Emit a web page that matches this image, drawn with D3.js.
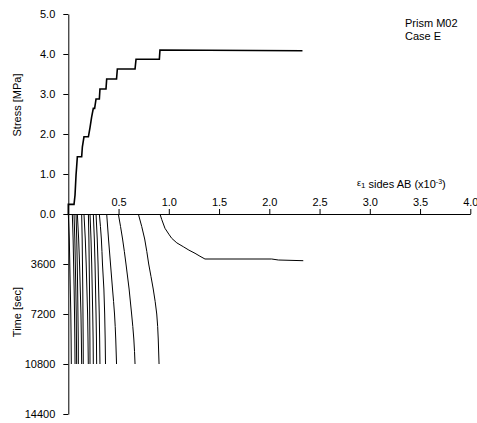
<!DOCTYPE html>
<html>
<head>
<meta charset="utf-8">
<script src="https://cdn.jsdelivr.net/npm/d3@7"></script>
<style>
  body { margin: 0; background: #fff; }
  svg { display: block; font-family: "Liberation Sans", Arial, sans-serif; }
</style>
</head>
<body>
<svg id="chart" width="477" height="423"></svg>
<script>
// upper part: stress vs strain (step curve)
const stressStrain = [0, 0, 0.057, 0.067, 0.077, 0.083, 0.09, 0.133, 0.14, 0.156, 0.2, 0.216, 0.232, 0.249, 0.262, 0.276, 0.309, 0.315, 0.375, 0.382, 0.48, 0.488, 0.664, 0.674, 0.906, 0.912, 2.33];
const stressValues = [0, 0.24, 0.24, 0.475, 0.975, 1.18, 1.43, 1.43, 1.68, 1.93, 1.93, 2.16, 2.42, 2.64, 2.64, 2.875, 2.875, 3.125, 3.125, 3.375, 3.375, 3.625, 3.625, 3.87, 3.87, 4.1, 4.08];

// lower part: strain vs time, one line per load step
const creepTimes = [0, 1800, 3600, 5400, 7200, 9000, 10800];
const creepStrains = [
  [0.00, 0.01, 0.015, 0.02, 0.025, 0.028, 0.03],
  [0.04, 0.048, 0.053, 0.058, 0.062, 0.065, 0.067],
  [0.057, 0.065, 0.07, 0.075, 0.079, 0.081, 0.083],
  [0.077, 0.084, 0.089, 0.093, 0.096, 0.099, 0.10],
  [0.09, 0.103, 0.112, 0.119, 0.126, 0.13, 0.133],
  [0.133, 0.138, 0.141, 0.144, 0.146, 0.148, 0.149],
  [0.156, 0.169, 0.178, 0.185, 0.192, 0.196, 0.199],
  [0.20, 0.205, 0.208, 0.211, 0.213, 0.215, 0.216],
  [0.216, 0.226, 0.233, 0.238, 0.243, 0.247, 0.249],
  [0.249, 0.259, 0.266, 0.271, 0.276, 0.28, 0.282],
  [0.276, 0.288, 0.296, 0.302, 0.308, 0.312, 0.315],
  [0.309, 0.329, 0.34, 0.354, 0.362, 0.367, 0.37],
  [0.382, 0.40, 0.42, 0.44, 0.46, 0.472, 0.48],
  [0.498, 0.54, 0.574, 0.605, 0.63, 0.652, 0.664],
  [0.697, 0.76, 0.80, 0.845, 0.88, 0.895, 0.903]
];
// last step (failure), runs out to the right
const lastStrain = [0.912, 0.93, 0.962, 1.0, 1.029, 1.08, 1.144, 1.2, 1.261, 1.31, 1.36, 2.024, 2.09, 2.338];
const lastTime = [0, 400, 1030, 1450, 1750, 2080, 2354, 2600, 2830, 3040, 3240, 3240, 3312, 3362];

const strainTicks = [0.5, 1.0, 1.5, 2.0, 2.5, 3.0, 3.5, 4.0];
const stressTicks = [0, 1, 2, 3, 4, 5];
const timeTicks = [0, 3600, 7200, 10800, 14400];

const svg = d3.select('#chart');

// scales
const x = d3.scaleLinear().domain([0, 4]).range([68.3, 470.3]);
const yStress = d3.scaleLinear().domain([0, 5]).range([214, 14]);
const yTime = d3.scaleLinear().domain([0, 14400]).range([214, 414]);

// axes
function styleAxis(g) {
  g.selectAll('path.domain').attr('stroke', '#000').attr('stroke-width', 1);
  g.selectAll('.tick line').attr('stroke', '#000');
  g.selectAll('.tick text').attr('fill', '#000').style('font-size', '11px')
    .style('font-family', '"Liberation Sans", Arial, sans-serif');
}

svg.append('g')
  .attr('transform', `translate(${x(0)},0)`)
  .call(d3.axisLeft(yStress).tickValues(stressTicks).tickFormat(d3.format('.1f'))
    .tickSize(5).tickSizeOuter(0).tickPadding(8))
  .call(styleAxis);

svg.append('g')
  .attr('transform', `translate(${x(0)},0)`)
  .call(d3.axisLeft(yTime).tickValues(timeTicks).tickFormat(d3.format('d'))
    .tickSize(5).tickSizeOuter(0).tickPadding(8))
  .call(g => g.selectAll('.tick').filter(d => d === 0).remove())
  .call(styleAxis);

svg.append('g')
  .attr('transform', `translate(0,${yStress(0)})`)
  .call(d3.axisTop(x).tickValues(strainTicks).tickFormat(d3.format('.1f'))
    .tickSize(5).tickSizeOuter(0).tickPadding(3))
  .call(styleAxis);

// stress-strain step curve
const stressPts = stressStrain.map((s, i) => [s, stressValues[i]]);
svg.append('path')
  .datum(stressPts)
  .attr('fill', 'none')
  .attr('stroke', '#000')
  .attr('stroke-width', 1.6)
  .attr('d', d3.line().x(d => x(d[0])).y(d => yStress(d[1])));

// creep curves
const creepLine = d3.line()
  .x(d => x(d[0]))
  .y(d => yTime(d[1]))
  .curve(d3.curveMonotoneY);

creepStrains.forEach(arr => {
  svg.append('path')
    .datum(arr.map((s, i) => [s, creepTimes[i]]))
    .attr('fill', 'none')
    .attr('stroke', '#000')
    .attr('stroke-width', 1)
    .attr('d', creepLine);
});

svg.append('path')
  .datum(lastStrain.map((s, i) => [s, lastTime[i]]))
  .attr('fill', 'none')
  .attr('stroke', '#000')
  .attr('stroke-width', 1)
  .attr('d', d3.line().x(d => x(d[0])).y(d => yTime(d[1])));

// axis titles
svg.append('text')
  .attr('transform', 'translate(21,105) rotate(-90)')
  .attr('text-anchor', 'middle')
  .style('font-size', '11px')
  .text('Stress [MPa]');

svg.append('text')
  .attr('transform', 'translate(21,312) rotate(-90)')
  .attr('text-anchor', 'middle')
  .style('font-size', '11px')
  .text('Time [sec]');

const xt = svg.append('text')
  .attr('x', 357)
  .attr('y', 188)
  .style('font-size', '11px');
xt.append('tspan').style('font-size', '9px').attr('dy', -2).text('ε');
xt.append('tspan').style('font-size', '8px').attr('dy', 2).text('1');
xt.append('tspan').text(' sides AB (x10');
xt.append('tspan').style('font-size', '7px').attr('dy', -4).text('-3');
xt.append('tspan').attr('dy', 4).text(')');

// case note
svg.append('text').attr('x', 405).attr('y', 27).style('font-size', '11px').text('Prism M02');
svg.append('text').attr('x', 405).attr('y', 40).style('font-size', '11px').text('Case E');
</script>
</body>
</html>
